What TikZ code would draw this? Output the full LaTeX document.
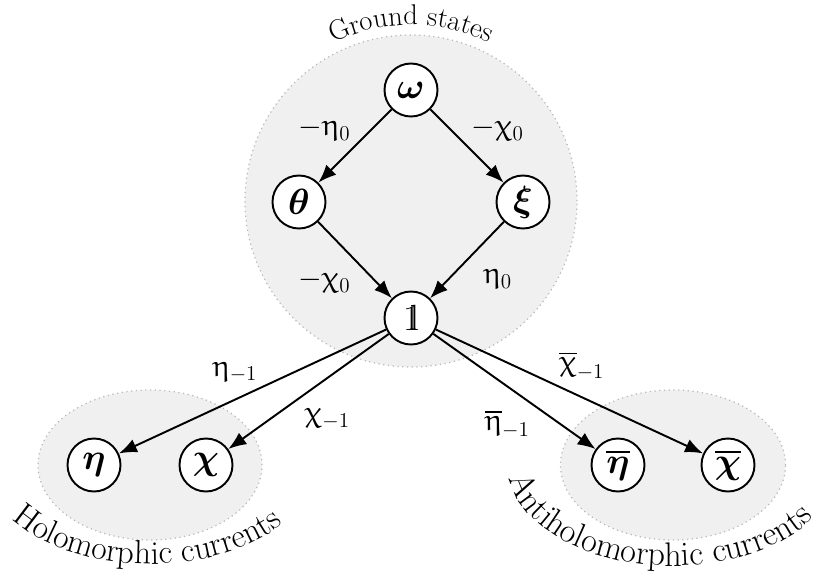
\documentclass[tikz,border=0pt]{standalone}
\usepackage{amsmath, amssymb, bm, upgreek}
\usepackage{tikz}
\usetikzlibrary{arrows.meta, positioning, decorations.text}

\definecolor{groupfill}{RGB}{240,240,240}
\definecolor{groupline}{RGB}{185,185,185}
\newcommand{\unitop}{\mathrm{1}\mkern-5mu\mathrm{l}}

\begin{document}
\begin{tikzpicture}[
  state/.style={draw, circle, line width=1.1pt, fill=white, minimum size=1.06cm, inner sep=0pt, font=\huge},
  group/.style={fill=groupfill, draw=groupline, dotted, line width=0.7pt},
  flow/.style={-{Latex[length=3.6mm, width=2.8mm]}, line width=1.1pt},
  lbl/.style={font=\LARGE, inner sep=2pt}
]
  \useasboundingbox (0,0) rectangle (16.48,-11.6);

  % Groups
  \path[group] (8.22,-4.02) circle (3.32);
  \path[group] (3.0,-9.3) ellipse (2.24 and 1.5);
  \path[group] (13.46,-9.3) ellipse (2.25 and 1.5);

  % Group titles
  \path[decorate, decoration={text along path, text align=center, text={|\fontsize{16.2}{19}\selectfont|Ground states}}]
    (8.22,-4.02) ++(150:3.52) arc[start angle=150, end angle=30, radius=3.52];
  \path[decorate, decoration={text along path, text align=center, text={|\fontsize{19}{23}\selectfont|Holomorphic currents}}]
    (3.0,-9.3) ++(178:3.3 and 1.98) arc[start angle=178, end angle=358, x radius=3.3, y radius=1.98];
  \path[decorate, decoration={text along path, text align=center, text={|\fontsize{19.4}{23}\selectfont|Antiholomorphic currents}}]
    (13.46,-9.3) ++(167:3.3 and 2.02) arc[start angle=167, end angle=347, x radius=3.3, y radius=2.02];

  % Ground states
  \node[state] (OMEGA) at (8.22,-1.8) {$\boldsymbol{\omega}$};
  \node[state] (THETA) at (5.98,-4.04) {$\boldsymbol{\theta}$};
  \node[state] (XI) at (10.46,-4.04) {$\boldsymbol{\xi}$};
  \node[state] (ONE) at (8.22,-6.36) {$\unitop$};

  % Currents
  \node[state] (ETA) at (1.88,-9.3) {$\boldsymbol{\eta}$};
  \node[state] (CHI) at (4.12,-9.3) {$\boldsymbol{\chi}$};
  \node[state] (ETABAR) at (12.36,-9.3) {$\overline{\boldsymbol{\eta}}$};
  \node[state] (CHIBAR) at (14.56,-9.3) {$\overline{\boldsymbol{\chi}}$};

  % Arrows
  \draw[flow] (OMEGA) -- node[lbl, above left] {$-\upeta_0$} (THETA);
  \draw[flow] (OMEGA) -- node[lbl, above right] {$-\upchi_0$} (XI);
  \draw[flow] (THETA) -- node[lbl, below left, yshift=-3pt] {$-\upchi_0$} (ONE);
  \draw[flow] (XI) -- node[lbl, below right, xshift=7pt, yshift=-3pt] {$\upeta_0$} (ONE);
  \draw[flow] (ONE) -- node[lbl, above left, pos=0.465] {$\upeta_{-1}$} (ETA);
  \draw[flow] (ONE) -- node[lbl, below right, pos=0.55, yshift=-4pt] {$\upchi_{-1}$} (CHI);
  \draw[flow] (ONE) -- node[lbl, below left, pos=0.6, xshift=2pt, yshift=-1.5pt] {$\overline{\upeta}_{-1}$} (ETABAR);
  \draw[flow] (ONE) -- node[lbl, above right, pos=0.445] {$\overline{\upchi}_{-1}$} (CHIBAR);
\end{tikzpicture}
\end{document}
